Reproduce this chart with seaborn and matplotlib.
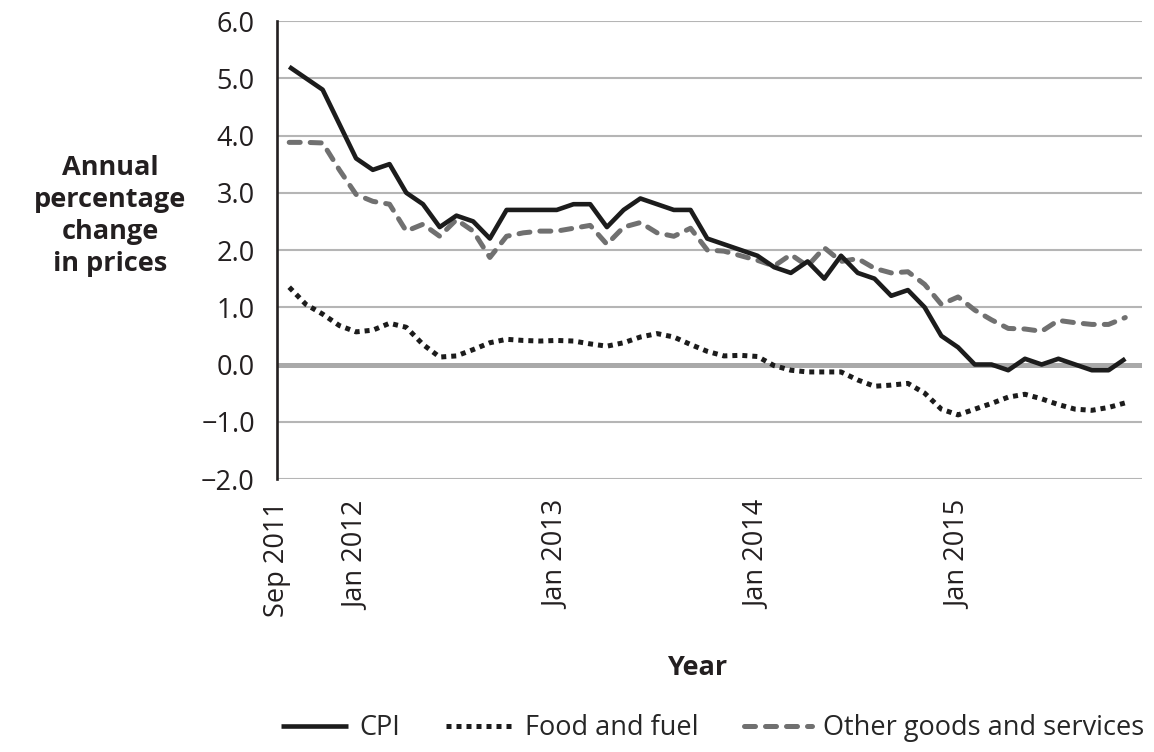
import matplotlib
matplotlib.use("Agg")
import matplotlib.pyplot as plt
import seaborn as sns
import pandas as pd
import numpy as np

# ---- data (monthly, Sep 2011 .. Nov 2015) ----
month_index = list(range(51))
cpi = [5.2, 5.0, 4.8, 4.2, 3.6, 3.4, 3.5, 3.0, 2.8, 2.4, 2.6, 2.5, 2.2, 2.7, 2.7, 2.7,
       2.7, 2.8, 2.8, 2.4, 2.7, 2.9, 2.8, 2.7, 2.7, 2.2, 2.1, 2.0,
       1.9, 1.7, 1.6, 1.8, 1.5, 1.9, 1.6, 1.5, 1.2, 1.3, 1.0, 0.5,
       0.3, 0.0, 0.0, -0.1, 0.1, 0.0, 0.1, 0.0, -0.1, -0.1, 0.1]
food_fuel = [1.35, 1.05, 0.88, 0.68, 0.57, 0.60, 0.72, 0.65, 0.35, 0.13, 0.15, 0.26,
             0.38, 0.44, 0.42, 0.41, 0.42, 0.41, 0.36, 0.32, 0.38, 0.48, 0.54, 0.48,
             0.35, 0.23, 0.15, 0.16, 0.14, -0.02, -0.10, -0.13, -0.13, -0.13, -0.27,
             -0.38, -0.36, -0.33, -0.50, -0.78, -0.88, -0.78, -0.68, -0.57, -0.52,
             -0.60, -0.70, -0.78, -0.80, -0.75, -0.67]
other = [3.88, 3.88, 3.87, 3.40, 2.97, 2.85, 2.80, 2.33, 2.45, 2.24, 2.53, 2.33,
         1.87, 2.24, 2.30, 2.33, 2.33, 2.38, 2.43, 2.10, 2.40, 2.48, 2.30, 2.24,
         2.38, 2.00, 1.98, 1.90, 1.82, 1.72, 1.92, 1.72, 2.04, 1.80, 1.85, 1.68,
         1.60, 1.62, 1.40, 1.05, 1.18, 0.95, 0.78, 0.63, 0.62, 0.58, 0.77, 0.73,
         0.70, 0.70, 0.82]
series_names = ["CPI", "Food and fuel", "Other goods and services"]
x_tick_pos = [-0.73, 4, 16, 28, 40]
x_tick_labels = ["Sep 2011", "Jan 2012", "Jan 2013", "Jan 2014", "Jan 2015"]
y_ticks = [-2.0, -1.0, 0.0, 1.0, 2.0, 3.0, 4.0, 5.0, 6.0]
y_tick_labels = ["\u22122.0", "\u22121.0", "0.0", "1.0", "2.0", "3.0", "4.0", "5.0", "6.0"]

sns.set_style("white")
plt.rcParams["font.family"] = ["Open Sans", "DejaVu Sans"]

df = pd.DataFrame({"month": month_index, series_names[0]: cpi,
                   series_names[1]: food_fuel, series_names[2]: other})

fig = plt.figure(figsize=(11.54, 7.52), dpi=100)
ax = fig.add_axes([277 / 1154, 1 - 479 / 752, (1142 - 277) / 1154, (479 - 21) / 752])

# grid
for yv in y_ticks:
    if yv == 0.0:
        ax.axhline(yv, color="#a9a9a9", lw=3.6, zorder=1)
    else:
        ax.axhline(yv, color="#b5b5b5", lw=1.5, zorder=1)

sns.lineplot(data=df, x="month", y=series_names[0], ax=ax, color="#1c1c1c",
             lw=3.3, label=series_names[0], zorder=5)
sns.lineplot(data=df, x="month", y=series_names[1], ax=ax, color="#1c1c1c",
             lw=3.6, label=series_names[1], zorder=4)
sns.lineplot(data=df, x="month", y=series_names[2], ax=ax, color="#707070",
             lw=3.6, label=series_names[2], zorder=3)
lines = ax.get_lines()[-3:]
lines[1].set_linestyle((0, (1, 1)))
lines[1].set_dash_capstyle("butt")
lines[2].set_linestyle((0, (2.2, 2.0)))
lines[2].set_dash_capstyle("round")
lines[0].set_solid_capstyle("butt")

ax.set_xlim(-0.73, 51)
ax.set_ylim(-2.0, 6.0)
ax.set_yticks(y_ticks)
ax.set_yticklabels(y_tick_labels, fontsize=19.5, color="#231f20")
ax.set_xticks(x_tick_pos)
ax.set_xticklabels(x_tick_labels, rotation=90, fontsize=19.5, color="#231f20", va="top")
ax.set_xlabel("")
ax.set_ylabel("")

for s in ["top", "right", "bottom"]:
    ax.spines[s].set_visible(False)
ax.spines["left"].set_color("#231f20")
ax.spines["left"].set_linewidth(1.9)
ax.spines["left"].set_zorder(6)

ax.tick_params(axis="y", direction="out", length=8, width=1.9, color="#231f20", pad=8)
ax.tick_params(axis="x", direction="out", length=9, width=1.6, color="#b5b5b5", pad=7)
ax.xaxis.get_major_ticks()[0].tick1line.set_color("#231f20")
ax.xaxis.get_major_ticks()[0].tick1line.set_markeredgewidth(1.9)

fig.text(110 / 1154, 1 - 216 / 752, "Annual\npercentage\nchange\nin prices",
         ha="center", va="center", fontsize=19.5, fontweight="bold",
         color="#231f20", linespacing=1.3)
fig.text(697 / 1154, 1 - 668 / 752, "Year", ha="center", va="center",
         fontsize=19.5, fontweight="bold", color="#231f20")

ax.get_legend().remove()
handles = lines
fig.legend(handles, series_names, loc="center right", bbox_to_anchor=(1144 / 1154, 1 - 728 / 752),
           ncol=3, frameon=False, fontsize=19.5, handlelength=2.5, columnspacing=1.7,
           handletextpad=0.4, borderaxespad=0, borderpad=0)

fig.savefig("out.png", dpi=100)
